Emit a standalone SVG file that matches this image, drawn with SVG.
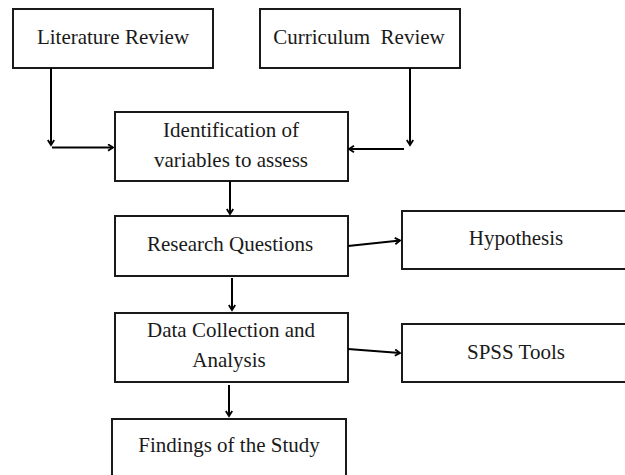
<svg xmlns="http://www.w3.org/2000/svg" width="625" height="475" viewBox="0 0 625 475">
<style>
.box{fill:#fff;stroke:#1a1a1a;stroke-width:2}
.t{font-family:'Liberation Serif','Times New Roman',Times,Tinos,'DejaVu Serif',serif;font-size:21px;fill:#1a1a1a;text-anchor:middle}
.c{fill:none;stroke:#000;stroke-width:2;marker-end:url(#ah)}
</style>
<defs>
<marker id="ah" markerWidth="8" markerHeight="8" refX="6" refY="4" orient="auto" markerUnits="userSpaceOnUse">
<path d="M1,0.8 L6,4 L1,7.2" fill="none" stroke="#000" stroke-width="1.8"/>
</marker>
</defs>
<rect width="625" height="475" fill="#fff"/>
<g id="lit"><rect class="box" x="13" y="9" width="200" height="59"/><text class="t" x="113" y="44" font-family="Liberation Serif">Literature Review</text></g>
<g id="cur"><rect class="box" x="260" y="9" width="200" height="59"/><text class="t" x="359" y="44" xml:space="preserve">Curriculum  Review</text></g>
<g id="ident"><rect class="box" x="115" y="112" width="233" height="69"/><text class="t" x="231" y="137">Identification of</text><text class="t" x="231" y="167">variables to assess</text></g>
<g id="rq"><rect class="box" x="115" y="216" width="233" height="60"/><text class="t" x="230" y="251">Research Questions</text></g>
<g id="hyp"><rect class="box" x="402" y="211" width="240" height="58"/><text class="t" x="516" y="245">Hypothesis</text></g>
<g id="data"><rect class="box" x="115" y="313" width="233" height="69"/><text class="t" x="231" y="337">Data Collection and</text><text class="t" x="229" y="367">Analysis</text></g>
<g id="spss"><rect class="box" x="402" y="324" width="240" height="58"/><text class="t" x="516" y="359">SPSS Tools</text></g>
<g id="find"><rect class="box" x="112" y="419" width="234" height="70"/><text class="t" x="229" y="452">Findings of the Study</text></g>
<g id="connectors">
<path class="c" d="M51,68 V145"/>
<path class="c" d="M52,147.5 H113"/>
<path class="c" d="M410,68 V145"/>
<path class="c" d="M404,149 H349"/>
<path class="c" d="M230,181 V214"/>
<path class="c" d="M348,246 L400,240.5"/>
<path class="c" d="M232,278 V310"/>
<path class="c" d="M348,349 L400,353"/>
<path class="c" d="M229,385 V416"/>
</g>
</svg>
